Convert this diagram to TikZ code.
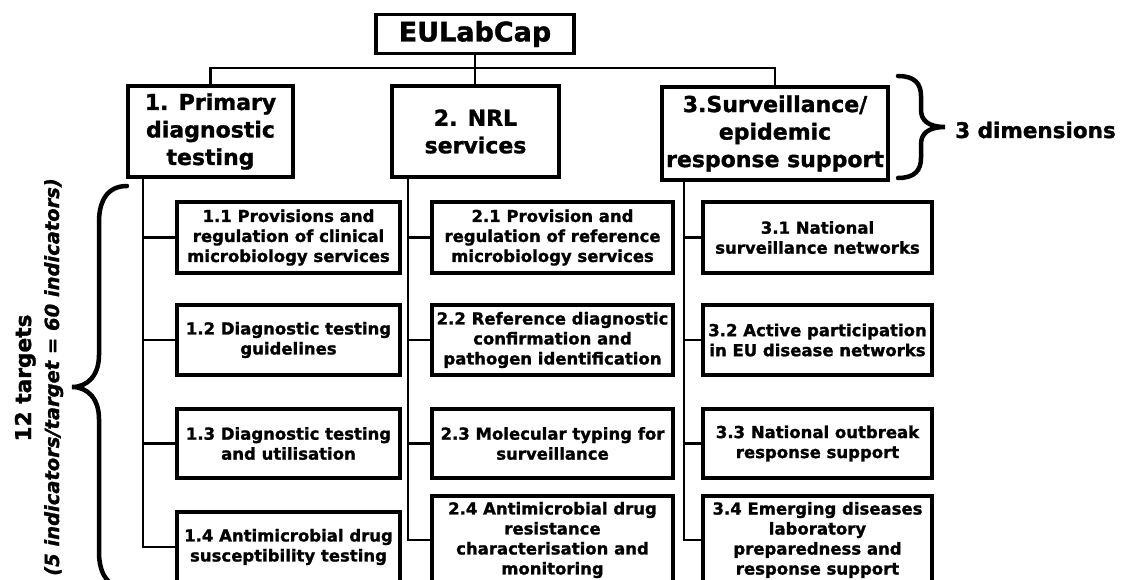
\documentclass[tikz,border=0pt]{standalone}
\usepackage{fontspec}
\setmainfont{DejaVu Sans}[BoldFeatures={FakeBold=1.3},BoldItalicFeatures={FakeBold=1.3}]
\usetikzlibrary{shadows}
\begin{document}
\begin{tikzpicture}[x=1pt,y=-1pt,
  box/.style={draw=black, line width=3.8pt, fill=white, inner sep=0pt, align=center,
    drop shadow={shadow xshift=1.8pt, shadow yshift=-1.8pt, fill=black, opacity=0.3},
    font=\bfseries\fontsize{16.5}{20}\selectfont},
  dimbox/.style={box, font=\bfseries\fontsize{22}{27.5}\selectfont},
  link/.style={line width=2.8pt},
  brc/.style={line width=4.5pt, line cap=round},
  c1/.style={box, minimum width=223pt},
  c2/.style={box, minimum width=241pt},
  c3/.style={box, minimum width=229pt},
]
\useasboundingbox (0,0) rectangle (1121,580);
\clip (0,0) rectangle (1121,580);

% top
\node[box, minimum width=198pt, minimum height=39pt, font=\bfseries\fontsize{27}{32}\selectfont] (eu) at (475,34) {EULabCap};
\node[dimbox, minimum width=165.5pt, minimum height=91pt] (d1) at (210.5,131.5) {1. Primary\\diagnostic\\testing};
\node[dimbox, minimum width=167.5pt, minimum height=91pt] (d2) at (475.5,131.5) {2. NRL\\services};
\node[dimbox, minimum width=226.5pt, minimum height=93pt] (d3) at (775,133.5) {3.Surveillance/\\epidemic\\response support};

% column 1
\node[c1, minimum height=71pt] (c11) at (288.5,237.5) {1.1 Provisions and\\regulation of clinical\\microbiology services};
\node[c1, minimum height=70pt] (c12) at (288.5,340) {1.2 Diagnostic testing\\guidelines};
\node[c1, minimum height=69pt] (c13) at (288.5,443.5) {1.3 Diagnostic testing\\and utilisation};
\node[c1, minimum height=70pt] (c14) at (288.5,547) {1.4 Antimicrobial drug\\susceptibility testing};

% column 2
\node[c2, minimum height=71pt] (c21) at (552.5,237.5) {2.1 Provision and\\regulation of reference\\microbiology services};
\node[c2, minimum height=70pt] (c22) at (552.5,340) {2.2 Reference diagnostic\\confirmation and\\pathogen identification};
\node[c2, minimum height=69pt] (c23) at (552.5,443.5) {2.3 Molecular typing for\\surveillance};
\node[c2, minimum height=88pt] (c24) at (552.5,540) {2.4 Antimicrobial drug\\resistance\\characterisation and\\monitoring};

% column 3
\node[c3, minimum height=71pt] (c31) at (817.5,237.5) {3.1 National\\surveillance networks};
\node[c3, minimum height=70pt] (c32) at (817.5,340) {3.2 Active participation\\in EU disease networks};
\node[c3, minimum height=69pt] (c33) at (817.5,443.5) {3.3 National outbreak\\response support};
\node[c3, minimum height=88pt] (c34) at (817.5,540) {3.4 Emerging diseases\\laboratory\\preparedness and\\response support};

% labels
\node[anchor=base west, inner sep=0pt, font=\bfseries\fontsize{21.5}{26}\selectfont] (dims) at (955,138) {3 dimensions};
\node[rotate=90, anchor=base, inner sep=0pt, font=\bfseries\fontsize{21.7}{26}\selectfont] (tg) at (31,378) {12 targets};
\node[rotate=90, anchor=base, inner sep=0pt, font=\bfseries\itshape\fontsize{19.5}{24}\selectfont] (ind) at (59,377) {(5 indicators/target = 60 indicators)};

% connector helpers
\coordinate (bus) at (0,68);
\coordinate (k1) at (143,0);
\coordinate (k2) at (408,0);
\coordinate (k3) at (684,0);

% connectors
\draw[link] (eu.south) -- (eu.south |- d2.north);
\draw[link] (d1.north) -- (d1.north |- bus) -- (d3.north |- bus) -- (d3.north);

\draw[link] (k1 |- d1.south) -- (k1 |- c14.west) -- (c14.west);
\draw[link] (k1 |- c11.west) -- (c11.west);
\draw[link] (k1 |- c12.west) -- (c12.west);
\draw[link] (k1 |- c13.west) -- (c13.west);

\draw[link] (k2 |- d2.south) -- (k2 |- c24.west) -- (c24.west);
\draw[link] (k2 |- c21.west) -- (c21.west);
\draw[link] (k2 |- c22.west) -- (c22.west);
\draw[link] (k2 |- c23.west) -- (c23.west);

\draw[link] (k3 |- d3.south) -- (k3 |- c34.west) -- (c34.west);
\draw[link] (k3 |- c31.west) -- (c31.west);
\draw[link] (k3 |- c32.west) -- (c32.west);
\draw[link] (k3 |- c33.west) -- (c33.west);

% braces
\draw[brc] (898,76) .. controls (915,76) and (921,84) .. (921,96) -- (921,110)
  .. controls (921,120) and (928,127) .. (945,127)
  .. controls (928,127) and (921,134) .. (921,144) -- (921,158)
  .. controls (921,170) and (915,178) .. (898,178);
\draw[brc] (127,186) .. controls (108,186) and (99,200) .. (99,222) -- (99,355)
  .. controls (99,375) and (88,387) .. (72,387)
  .. controls (88,387) and (99,399) .. (99,419) -- (99,552)
  .. controls (99,574) and (108,588) .. (127,588);
\end{tikzpicture}
\end{document}
